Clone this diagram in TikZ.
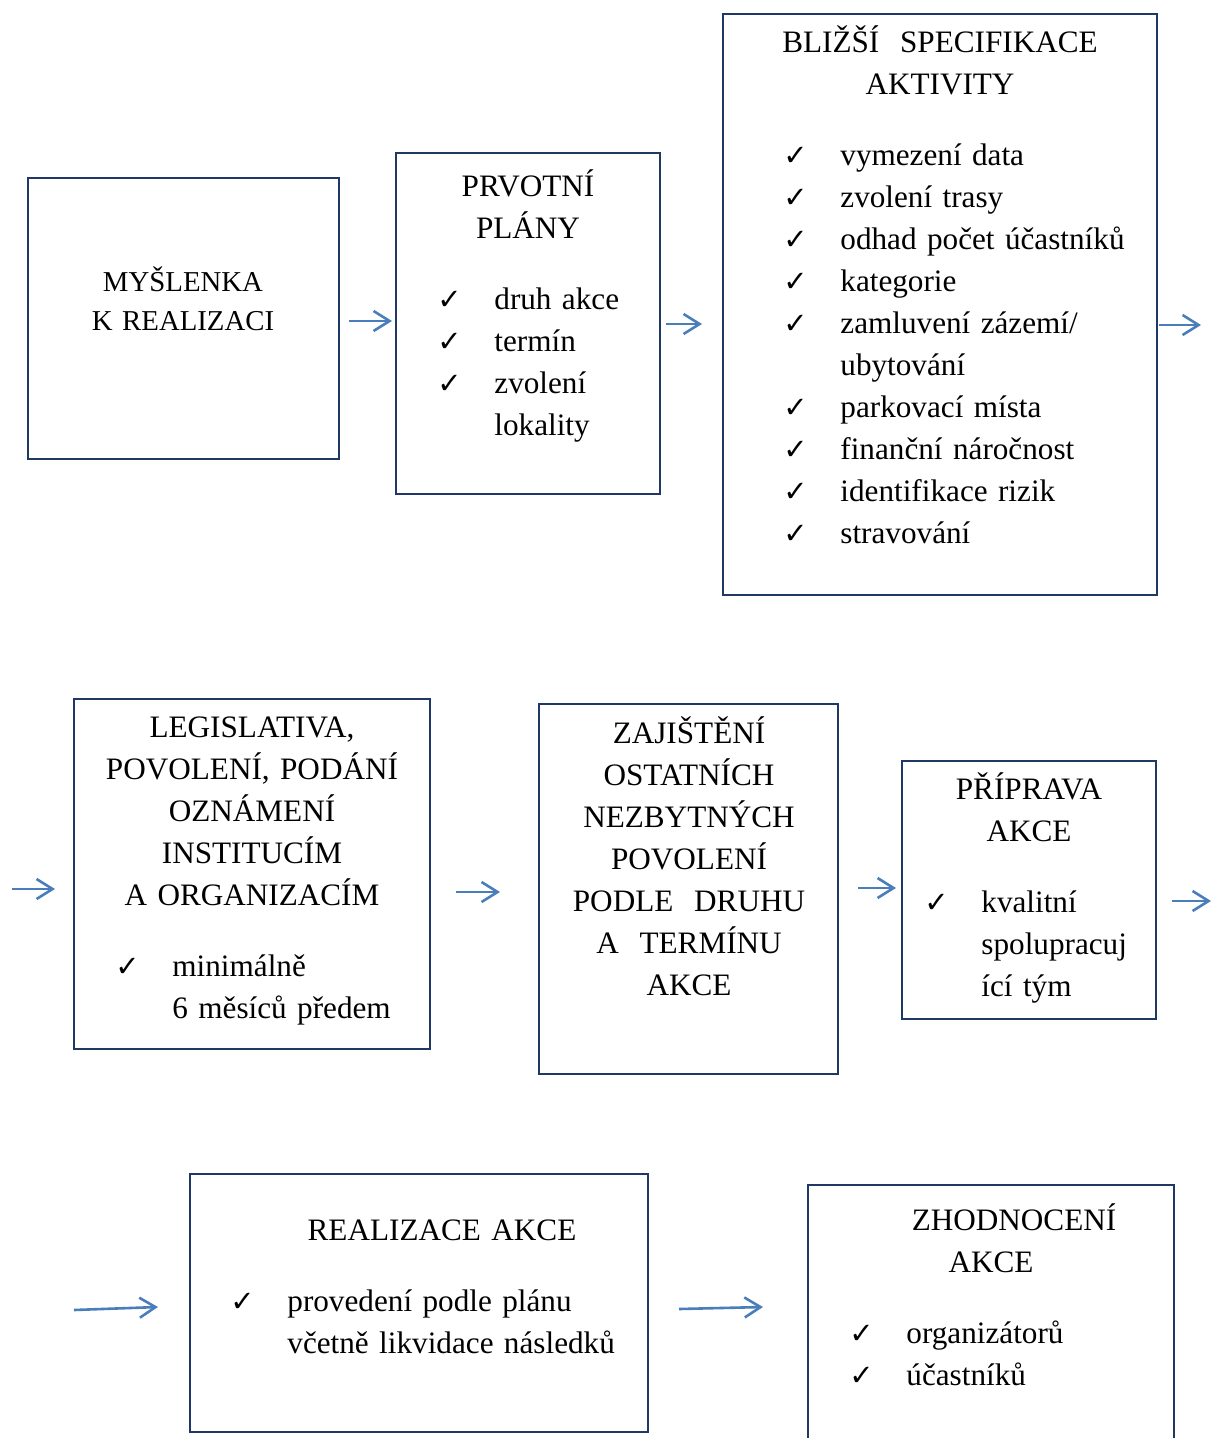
\documentclass[tikz,border=0pt]{standalone}
\usepackage{fontspec}
\setmainfont{Liberation Serif}
\newfontfamily\chkfont{DejaVu Sans}
\usetikzlibrary{arrows.meta, calc}
\definecolor{boxnavy}{RGB}{31,56,100}
\definecolor{flowblue}{RGB}{74,126,187}
\newcommand{\chkmark}{\makebox[28.5pt][l]{\chkfont\bfseries\fontsize{14.5}{21}\selectfont\symbol{"2713}}}
\newcommand{\chkgap}{\hspace*{28.5pt}}
\tikzstyle{flow}=[-{Straight Barb[length=8pt,width=10pt]}, line width=1.3pt, color=flowblue]

\begin{document}
\begin{tikzpicture}[x=0.5pt, y=-0.5pt, font=\fontsize{15.6}{21}\selectfont,
  stagebox/.style={rectangle, draw=boxnavy, line width=1.25pt,
                   inner sep=0pt, outer sep=0pt},
  stagetitle/.style={anchor=base, inner sep=0pt, align=center, text width=230pt},
  checklist/.style={anchor=base west, inner sep=0pt, align=left, text width=200pt}
]
\useasboundingbox (0,0) rectangle (1211,1438);
\clip (0,0) rectangle (1211,1438);

% first row
\node[stagebox, minimum width=155.5pt, minimum height=140.5pt] (myslenka) at (183.5,318.5) {};
\node[stagetitle, font=\fontsize{14.4}{19.5}\selectfont] (myslenkatitle) at (183,292)
     {MYŠLENKA\\K REALIZACI};

\node[stagebox, minimum width=132pt, minimum height=170.5pt] (prvotni) at (528,323.5) {};
\node[stagetitle] (prvotnititle) at (528,197) {PRVOTNÍ\\PLÁNY};
\node[checklist] (prvotnilist) at (437,310)
     {\chkmark druh akce\\\chkmark termín\\\chkmark zvolení\\\chkgap lokality};

\node[stagebox, minimum width=217pt, minimum height=290.5pt] (specifikace) at (940,304.5) {};
\node[stagetitle] (specifikacetitle) at (940,53) {BLIŽŠÍ\ \ SPECIFIKACE\\AKTIVITY};
\node[checklist] (specifikacelist) at (783,166)
     {\chkmark vymezení data\\\chkmark zvolení trasy\\\chkmark odhad počet účastníků\\
      \chkmark kategorie\\\chkmark zamluvení zázemí/\\\chkgap ubytování\\
      \chkmark parkovací místa\\\chkmark finanční náročnost\\
      \chkmark identifikace rizik\\\chkmark stravování};

% second row
\node[stagebox, minimum width=178pt, minimum height=175pt] (legislativa) at (252,874) {};
\node[stagetitle] (legislativatitle) at (252,737)
     {LEGISLATIVA,\\POVOLENÍ, PODÁNÍ\\OZNÁMENÍ\\INSTITUCÍM\\A ORGANIZACÍM};
\node[checklist] (legislativalist) at (115,976) {\chkmark minimálně\\\chkgap 6 měsíců předem};

\node[stagebox, minimum width=149.5pt, minimum height=185pt] (zajisteni) at (688.5,889) {};
\node[stagetitle] (zajistenititle) at (689,743)
     {ZAJIŠTĚNÍ\\OSTATNÍCH\\NEZBYTNÝCH\\POVOLENÍ\\PODLE\ \ DRUHU\\A\ \ TERMÍNU\\AKCE};

\node[stagebox, minimum width=127pt, minimum height=129pt] (priprava) at (1029,890) {};
\node[stagetitle] (pripravatitle) at (1029,799) {PŘÍPRAVA\\AKCE};
\node[checklist] (pripravalist) at (924,912)
     {\chkmark kvalitní\\\chkgap spolupracuj\\\chkgap ící tým};

% third row
\node[stagebox, minimum width=229pt, minimum height=129pt] (realizace) at (419,1303) {};
\node[stagetitle] (realizacetitle) at (442,1240) {REALIZACE AKCE};
\node[checklist] (realizacelist) at (230,1311)
     {\chkmark provedení podle plánu\\\chkgap včetně likvidace následků};

\node[stagebox, minimum width=183pt, minimum height=142.5pt] (zhodnoceni) at (991,1327.5) {};
\node[stagetitle] (zhodnocenititle) at (991,1230) {\hspace*{23pt}ZHODNOCENÍ\\AKCE};
\node[checklist] (zhodnocenilist) at (849,1343)
     {\chkmark organizátorů\\\chkmark účastníků};

% free ends of the row-wrapping arrows
\coordinate (row1out) at (1201,325);
\coordinate (row2in)  at (12,889);
\coordinate (row2out) at (1211,901);
\coordinate (row3in)  at (74,1310);

\draw[flow] ($(myslenka.east)+(10,2.5)$) -- ($(prvotni.west)+(-4,-2.5)$);
\draw[flow] ($(prvotni.east)+(6,0.5)$) -- ($(specifikace.west)+(-21,19.5)$);
\draw[flow] ($(specifikace.east)+(2,20.5)$) -- (row1out);
\draw[flow] (row2in) -- ($(legislativa.west)+(-19,15)$);
\draw[flow] ($(legislativa.east)+(26,18)$) -- ($(zajisteni.west)+(-39,3)$);
\draw[flow] ($(zajisteni.east)+(20,-1)$) -- ($(priprava.west)+(-6,-2)$);
\draw[flow] ($(priprava.east)+(16,11)$) -- (row2out);
\draw[flow] (row3in) -- ($(realizace.west)+(-32,4)$);
\draw[flow] ($(realizace.east)+(31,6)$) -- ($(zhodnoceni.west)+(-45,-20.5)$);
\end{tikzpicture}
\end{document}
